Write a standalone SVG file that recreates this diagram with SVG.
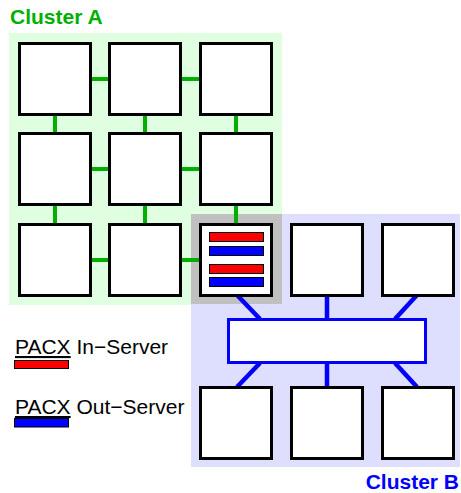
<svg xmlns="http://www.w3.org/2000/svg" width="461" height="493" viewBox="0 0 461 493">
  <style>
    .node { fill: #ffffff; stroke: #000000; stroke-width: 3; }
    .green { stroke: #00b000; stroke-width: 4; fill: none; }
    .blue { stroke: #0000ff; stroke-width: 4.5; fill: none; }
    .in { fill: #ff0000; stroke: #000000; stroke-width: 1; }
    .out { fill: #0000ff; stroke: #000000; stroke-width: 1; }
    .title { font-family: "Liberation Sans", Arial, sans-serif; font-weight: bold; font-size: 21px; }
    .legend { font-family: "Liberation Sans", Arial, sans-serif; font-size: 21px; fill: #000000; }
  </style>
  <rect width="461" height="493" fill="#ffffff"/>

  <!-- cluster backgrounds -->
  <g id="clusterA">
    <rect x="9" y="33" width="273" height="272" fill="#e0ffe0"/>
    <text class="title" x="10" y="24" fill="#00b000">Cluster A</text>
  </g>
  <g id="clusterB">
    <rect x="191" y="214" width="269" height="253" fill="#dedeff"/>
    <text class="title" x="459" y="489" fill="#0000ff" text-anchor="end">Cluster B</text>
  </g>
  <rect id="server-highlight" x="191" y="214" width="91" height="90" fill="#c0c0c0"/>

  <!-- links -->
  <g id="connectors">
    <!-- cluster A grid -->
    <line class="green" x1="92" y1="79" x2="108" y2="79"/>
    <line class="green" x1="182" y1="79" x2="199" y2="79"/>
    <line class="green" x1="92" y1="169" x2="108" y2="169"/>
    <line class="green" x1="182" y1="169" x2="199" y2="169"/>
    <line class="green" x1="92" y1="260" x2="108" y2="260"/>
    <line class="green" x1="182" y1="260" x2="199" y2="260"/>
    <line class="green" x1="55" y1="116" x2="55" y2="132"/>
    <line class="green" x1="145" y1="116" x2="145" y2="132"/>
    <line class="green" x1="236" y1="116" x2="236" y2="132"/>
    <line class="green" x1="55" y1="206" x2="55" y2="223"/>
    <line class="green" x1="145" y1="206" x2="145" y2="223"/>
    <line class="green" x1="236" y1="206" x2="236" y2="223"/>
    <!-- cluster B star -->
    <line class="blue" x1="237" y1="295" x2="260" y2="319"/>
    <line class="blue" x1="327" y1="296" x2="327" y2="319"/>
    <line class="blue" x1="417" y1="295" x2="395" y2="319"/>
    <line class="blue" x1="260" y1="363" x2="237" y2="387"/>
    <line class="blue" x1="327" y1="363" x2="327" y2="387"/>
    <line class="blue" x1="395" y1="363" x2="417" y2="387"/>
  </g>

  <!-- cluster A nodes -->
  <g id="a11"><rect class="node" x="19.5" y="43.5" width="71" height="71"/></g>
  <g id="a12"><rect class="node" x="109.5" y="43.5" width="71" height="71"/></g>
  <g id="a13"><rect class="node" x="200.5" y="43.5" width="71" height="71"/></g>
  <g id="a21"><rect class="node" x="19.5" y="133.5" width="71" height="71"/></g>
  <g id="a22"><rect class="node" x="109.5" y="133.5" width="71" height="71"/></g>
  <g id="a23"><rect class="node" x="200.5" y="133.5" width="71" height="71"/></g>
  <g id="a31"><rect class="node" x="19.5" y="224.5" width="71" height="71"/></g>
  <g id="a32"><rect class="node" x="109.5" y="224.5" width="71" height="71"/></g>
  <g id="pacx-node">
    <rect class="node" x="200.5" y="224.5" width="71" height="71"/>
    <rect class="in" x="209.5" y="232.5" width="54" height="9"/>
    <rect class="out" x="209.5" y="246.5" width="54" height="9"/>
    <rect class="in" x="209.5" y="264.5" width="54" height="9"/>
    <rect class="out" x="209.5" y="277.5" width="54" height="9"/>
  </g>

  <!-- cluster B nodes -->
  <g id="b12"><rect class="node" x="291.5" y="224.5" width="71" height="71"/></g>
  <g id="b13"><rect class="node" x="382.5" y="224.5" width="71" height="71"/></g>
  <g id="switch"><rect x="228.5" y="319.5" width="197" height="43" fill="#ffffff" stroke="#0000ff" stroke-width="3"/></g>
  <g id="b31"><rect class="node" x="200.5" y="387.5" width="71" height="71"/></g>
  <g id="b32"><rect class="node" x="291.5" y="387.5" width="71" height="71"/></g>
  <g id="b33"><rect class="node" x="382.5" y="387.5" width="71" height="71"/></g>

  <!-- legend -->
  <g id="legend-in">
    <text class="legend" x="15" y="354"><tspan text-decoration="underline">PACX</tspan> In−Server</text>
    <rect class="in" x="14.5" y="360.5" width="54" height="8"/>
  </g>
  <g id="legend-out">
    <text class="legend" x="15" y="414"><tspan text-decoration="underline">PACX</tspan> Out−Server</text>
    <rect class="out" x="14.5" y="418.5" width="54" height="8.5"/>
  </g>
</svg>
